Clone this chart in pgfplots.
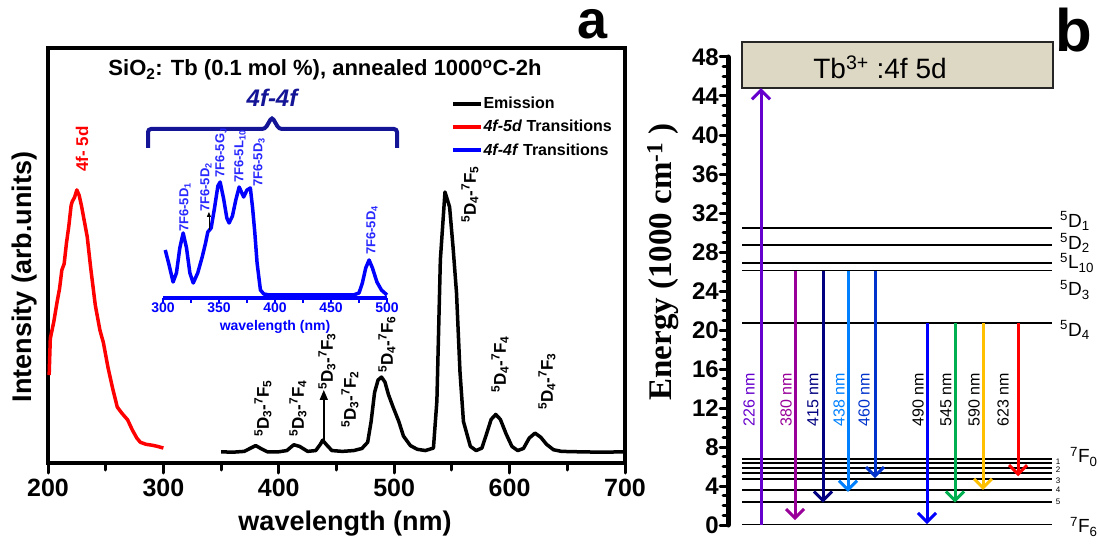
\documentclass[border=0pt]{standalone}
\usepackage{fontspec}
\setmainfont{Liberation Sans}
\newfontfamily\timesf{Liberation Serif}
\usepackage{pgfplots}
\pgfplotsset{compat=1.18}
\usetikzlibrary{arrows.meta}

\newcommand{\fs}[1]{\fontsize{#1}{#1}\selectfont}
\newcommand{\lv}[3]{\textsuperscript{#1}#2\textsubscript{#3}}

\definecolor{navyb}{RGB}{20,20,150}
\definecolor{insetblue}{RGB}{0,0,255}
\definecolor{labblue}{RGB}{40,40,255}
\definecolor{c226}{RGB}{102,0,204}
\definecolor{c380}{RGB}{153,0,153}
\definecolor{c415}{RGB}{0,0,128}
\definecolor{c438}{RGB}{0,128,255}
\definecolor{c460}{RGB}{0,51,204}
\definecolor{c490}{RGB}{0,0,255}
\definecolor{c545}{RGB}{0,176,80}
\definecolor{c590}{RGB}{255,192,0}
\definecolor{c623}{RGB}{255,0,0}
\definecolor{tanbox}{RGB}{221,216,196}

\pgfplotsset{
  /pgf/number format/assume math mode=true,
  legend image code/.code={\draw[#1] (0pt,0pt) -- (28pt,0pt);},
  lev/.style={black, line width=1.8pt},
  arr/.style={line width=3pt, -{Straight Barb[length=9pt,width=18pt]}},
}

\begin{document}
\begin{tikzpicture}[x=1pt,y=1pt]
\useasboundingbox (0,0) rectangle (1100,544);

% ---------- panel a: spectra ----------
\begin{axis}[
  at={(48pt,81pt)}, anchor=south west,
  scale only axis, width=577pt, height=415pt,
  xmin=200, xmax=700, ymin=0, ymax=1,
  axis line style={line width=4.5pt},
  xtick={200,300,...,700}, minor xtick={250,350,...,650},
  ytick=\empty, xtick pos=bottom, tick align=outside,
  major tick length=10pt, minor tick length=7pt,
  tick style={black, line width=3pt, line cap=round},
  xticklabel style={font=\fs{25}\bfseries, yshift=-3pt},
  clip=false,
  legend style={at={(0.693,0.889)}, anchor=north west, draw=none, fill=none,
    font=\fs{16}\bfseries, row sep=8pt, nodes={inner sep=1pt}},
  legend cell align=left,
]
\addplot[black, line width=3.5pt, line join=round] coordinates {
(350,0.027) (360,0.026) (370,0.028) (375,0.035) (380,0.042) (385,0.034) (390,0.027)
(400,0.027) (407,0.030) (413,0.044) (418,0.040) (425,0.028) (432,0.030) (436,0.045)
(438,0.055) (441,0.045) (446,0.030) (455,0.028) (465,0.030) (472,0.035) (477,0.05)
(480,0.10) (483,0.17) (486,0.20) (489,0.207) (492,0.195) (495,0.165) (499,0.135)
(504,0.10) (508,0.065) (514,0.042) (520,0.033) (527,0.030) (534,0.036) (537,0.15)
(540,0.49) (544,0.653) (548,0.617) (551,0.52) (554,0.41) (557,0.22) (560,0.10)
(566,0.04) (571,0.030) (576,0.036) (580,0.070) (584,0.105) (588,0.117) (592,0.105)
(597,0.070) (602,0.040) (607,0.030) (612,0.035) (617,0.060) (622,0.072) (627,0.062)
(632,0.045) (638,0.032) (645,0.028) (660,0.027) (680,0.026) (700,0.027)
};
\addlegendentry{Emission}
\addplot[red, line width=3.5pt, line join=round] coordinates {
(201,0.212) (202,0.30) (205,0.34) (208,0.39) (210,0.42) (212,0.465) (214,0.48)
(216,0.53) (218,0.57) (220,0.62) (221,0.63) (223,0.64) (225,0.658) (227,0.645)
(229,0.62) (231,0.59) (234,0.545) (237,0.47) (241,0.38) (245,0.32) (248,0.29)
(252,0.23) (256,0.18) (260,0.135) (264,0.12) (269,0.104) (273,0.08) (277,0.06)
(280,0.05) (285,0.045) (290,0.043) (295,0.040) (300,0.036)
};
\addlegendentry{\textit{4f-5d} Transitions}
\addlegendimage{insetblue, line width=3.5pt}
\addlegendentry{\textit{4f-4f} Transitions}
\draw[-{Triangle[length=10pt,width=8pt]}, line width=1.5pt]
  (axis cs:439,0.055) -- (axis cs:439,0.176);
\draw[line width=4.5pt] (rel axis cs:1,0) -- (rel axis cs:1,1);
\end{axis}

% ---------- inset: excitation ----------
\begin{axis}[
  at={(163pt,246pt)}, anchor=south west,
  scale only axis, width=224pt, height=130pt,
  xmin=300, xmax=500, ymin=0, ymax=130,
  axis x line*=bottom, axis y line=none,
  axis line style={insetblue, line width=3.5pt},
  xtick={300,350,...,500}, minor xtick={325,375,...,475},
  tick align=outside, major tick length=5pt, minor tick length=5pt,
  tick style={insetblue, line width=2pt},
  xticklabel style={font=\fs{14}\bfseries, text=insetblue, inner sep=1pt, yshift=1pt},
  clip=false,
]
\addplot[insetblue, line width=3.5pt, line join=round] coordinates {
(302,48) (305,35) (309,16) (312,25) (315,50) (318,65) (321,50) (324,25) (327,15)
(331,25) (335,41) (338,55) (340,66) (343,70) (346,90) (349,112) (351,116) (354,100)
(357,80) (359,75) (362,82) (365,98) (368,111) (370,106) (372,101) (375,108) (378,110)
(380,90) (382,65) (384,35) (387,8) (390,4) (395,3) (450,3) (470,3) (475,5) (478,15)
(481,30) (484,38) (487,30) (491,16) (495,8) (500,3)
};
\draw[-{Triangle[length=5pt,width=4pt]}, line width=0.8pt]
  (axis cs:341,68) -- (axis cs:341,86);
\end{axis}

% ---------- panel b: energy levels ----------
\begin{axis}[
  at={(728pt,19pt)}, anchor=south west,
  scale only axis, width=332pt, height=468pt,
  xmin=728, xmax=1060, ymin=0, ymax=48,
  axis x line=none, axis y line*=left,
  axis line style={line width=5pt, line cap=round},
  ytick={0,4,...,48}, minor y tick num=3,
  tick align=outside, major tick length=8pt, minor tick length=5pt,
  tick style={black, line width=3pt, line cap=round},
  yticklabel style={font=\fs{24}\bfseries, inner sep=1pt},
  clip=false,
]
\addplot[lev] coordinates {(742,30.5) (1052,30.5)};
\addplot[lev] coordinates {(742,28.7) (1052,28.7)};
\addplot[lev] coordinates {(742,26.9) (1052,26.9)};
\addplot[lev] coordinates {(742,26.1) (1052,26.1)};
\addplot[lev] coordinates {(742,20.7) (1052,20.7)};
\addplot[lev] coordinates {(742,6.77) (1052,6.77)};
\addplot[lev] coordinates {(742,6.33) (1052,6.33)};
\addplot[lev] coordinates {(742,5.82) (1052,5.82)};
\addplot[lev] coordinates {(742,5.36) (1052,5.36)};
\addplot[lev] coordinates {(742,4.68) (1052,4.68)};
\addplot[lev] coordinates {(742,3.59) (1052,3.59)};
\addplot[lev] coordinates {(742,2.33) (1052,2.33)};
\addplot[lev] coordinates {(742,0.05) (1052,0.05)};
\draw[fill=tanbox, draw=black!85, line width=2pt]
  (axis cs:742,44.8) rectangle (axis cs:1053,49.5);
\addplot[arr, c226] coordinates {(761,0) (761,44.8)};
\addplot[arr, c380] coordinates {(795,26.1) (795,0.5)};
\addplot[arr, c415] coordinates {(823,26.1) (823,2.3)};
\addplot[arr, c438] coordinates {(848,26.1) (848,3.4)};
\addplot[arr, c460] coordinates {(875,26.1) (875,4.8)};
\addplot[arr, c490] coordinates {(927,20.7) (927,0.1)};
\addplot[arr, c545] coordinates {(955,20.7) (955,2.3)};
\addplot[arr, c590] coordinates {(983,20.7) (983,3.6)};
\addplot[arr, c623] coordinates {(1018,20.7) (1018,5.0)};
\end{axis}

% ---------- texts, panel a ----------
\node[font=\fs{54}\bfseries, anchor=base, inner sep=0pt, text height=27pt, text depth=0pt] at (593,505) {a};
\node[font=\fs{60}\bfseries, anchor=base, inner sep=0pt, text height=44pt, text depth=0pt] at (1074,492) {b};
\node[font=\fs{22}\bfseries, anchor=base] at (325,468)
  {SiO\textsubscript{2}: Tb (0.1 mol \%), annealed 1000\textsuperscript{o}C-2h};
\node[font=\fs{24}\bfseries\itshape, text=navyb, anchor=base] at (272,437) {4f-4f};
\draw[navyb, line width=4pt, rounded corners=3pt]
  (148,396) -- (148,415) -- (265,415) -- (272,427) -- (279,415) -- (397,415) -- (397,396);
\node[font=\fs{27}\bfseries] at (345,20) {wavelength (nm)};
\node[font=\fs{27}\bfseries, rotate=90] at (25,267) {Intensity (arb.units)};
\node[font=\fs{17}\bfseries, text=red, rotate=90, anchor=west, inner sep=0pt] at (82,372) {4f- 5d};

\begin{scope}[every node/.style={font=\fs{17}\bfseries, rotate=90, anchor=west, inner sep=0pt}]
\node at (263,107) {\lv{5}{D}{3}-\lv{7}{F}{5}};
\node at (298,107) {\lv{5}{D}{3}-\lv{7}{F}{4}};
\node at (327,154) {\lv{5}{D}{3}-\lv{7}{F}{3}};
\node at (350,116) {\lv{5}{D}{3}-\lv{7}{F}{2}};
\node at (387,171) {\lv{5}{D}{4}-\lv{7}{F}{6}};
\node at (470,321) {\lv{5}{D}{4}-\lv{7}{F}{5}};
\node at (500,151) {\lv{5}{D}{4}-\lv{7}{F}{4}};
\node at (547,134) {\lv{5}{D}{4}-\lv{7}{F}{3}};
\end{scope}

\begin{scope}[every node/.style={font=\fs{13}\bfseries, text=labblue, rotate=90, anchor=west, inner sep=0pt}]
\node at (185,312) {7F6-5D\textsubscript{1}};
\node at (206,332) {7F6-5D\textsubscript{2}};
\node at (221,366) {7F6-5G\textsubscript{J}};
\node at (240,361) {7F6-5L\textsubscript{10}};
\node at (259,357) {7F6-5D\textsubscript{3}};
\node at (372,289) {7F6-5D\textsubscript{4}};
\end{scope}
\node[font=\fs{14}\bfseries, text=insetblue] at (275,217) {wavelength (nm)};

% ---------- texts, panel b ----------
\node[font=\fs{33}\timesf\bfseries, rotate=90] at (663,282) {Energy (1000 cm\textsuperscript{-1} )};
\node[font=\fs{28}] at (880,477) {Tb\textsuperscript{3+} :4f 5d};

\begin{scope}[every node/.style={font=\fs{16}, rotate=90}]
\node[text=c226] at (749,144) {226 nm};
\node[text=c380] at (786,144) {380 nm};
\node[text=c415] at (813,144) {415 nm};
\node[text=c438] at (839,144) {438 nm};
\node[text=c460] at (864,144) {460 nm};
\node at (918,144) {490 nm};
\node at (946,144) {545 nm};
\node at (974,144) {590 nm};
\node at (1003,144) {623 nm};
\end{scope}

\begin{scope}[every node/.style={font=\fs{19}, anchor=west, inner sep=0pt}]
\node at (1060,323) {\lv{5}{D}{1}};
\node at (1060,301) {\lv{5}{D}{2}};
\node at (1060,281) {\lv{5}{L}{10}};
\node at (1060,254) {\lv{5}{D}{3}};
\node at (1060,214) {\lv{5}{D}{4}};
\node at (1070,87) {\lv{7}{F}{0}};
\node at (1070,17) {\lv{7}{F}{6}};
\end{scope}
\begin{scope}[every node/.style={font=\fs{8}, inner sep=0pt}]
\node at (1058,82) {1};
\node at (1058,74) {2};
\node at (1058,63) {3};
\node at (1058,54) {4};
\node at (1058,42) {5};
\end{scope}
\end{tikzpicture}
\end{document}
